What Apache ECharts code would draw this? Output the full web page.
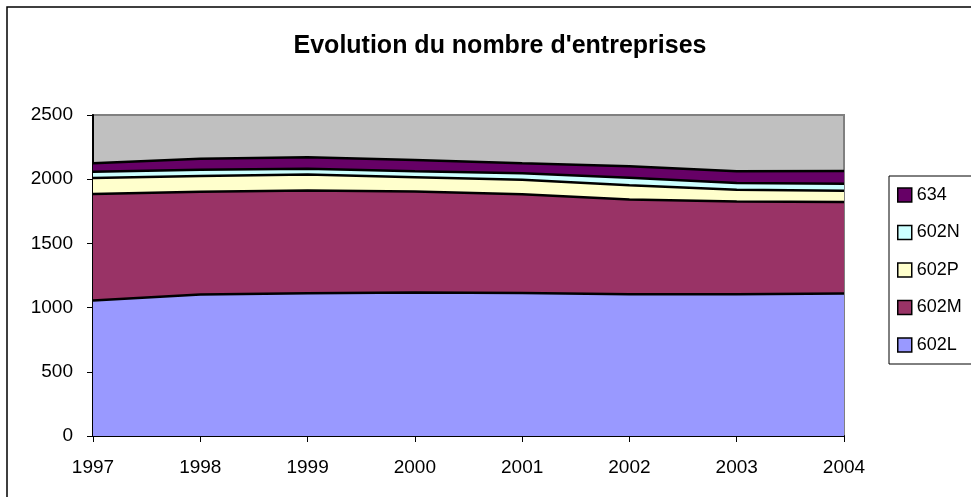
<!DOCTYPE html>
<html>
<head>
<meta charset="utf-8">
<title>Evolution du nombre d'entreprises</title>
<script src="https://cdn.jsdelivr.net/npm/echarts@6/dist/echarts.min.js"></script>
<style>
  html, body { margin: 0; padding: 0; background: #fff; }
  #chart { width: 971px; height: 497px; }
</style>
</head>
<body>
<div id="chart"></div>
<script>
// years on the x axis
var years = ['1997', '1998', '1999', '2000', '2001', '2002', '2003', '2004'];

// stacked series, bottom to top
var s602L = [1055, 1102, 1112, 1118, 1114, 1103, 1104, 1110];
var s602M = [830, 800, 800, 786, 768, 738, 722, 712];
var s602P = [125, 122, 124, 112, 114, 112, 92, 88];
var s602N = [48, 50, 45, 46, 50, 58, 52, 55];
var s634 = [67, 86, 89, 88, 78, 90, 92, 98];

var legendOrder = ['634', '602N', '602P', '602M', '602L'];

var font = 'Liberation Sans, Arial, sans-serif';

function areaSeries(name, data, color) {
    return {
        name: name,
        type: 'line',
        stack: 'total',
        data: data,
        symbol: 'none',
        color: color,
        lineStyle: { color: '#000', width: 2.5 },
        areaStyle: { color: color, opacity: 1 },
        itemStyle: { color: color },
        emphasis: { disabled: true }
    };
}

var chart = echarts.init(document.getElementById('chart'));
chart.setOption({
    animation: false,
    backgroundColor: '#fff',
    graphic: [
        {
            type: 'rect',
            shape: { x: 7, y: 7, width: 990, height: 520 },
            style: { fill: 'none', stroke: '#000', lineWidth: 1.5 },
            silent: true
        }
    ],
    title: {
        text: "Evolution du nombre d'entreprises",
        left: 495,
        top: 29,
        textAlign: 'center',
        textStyle: { fontFamily: font, fontSize: 25, fontWeight: 'bold', color: '#000' }
    },
    legend: {
        data: legendOrder,
        orient: 'vertical',
        left: 889,
        top: 176,
        padding: [10, 10, 10, 8],
        itemWidth: 14,
        itemHeight: 14,
        itemGap: 19.5,
        icon: 'rect',
        borderColor: '#000',
        borderWidth: 1,
        itemStyle: { borderColor: '#000', borderWidth: 1.5 },
        textStyle: { fontFamily: font, fontSize: 18, color: '#000' }
    },
    grid: {
        left: 93,
        right: 127,
        top: 115,
        bottom: 61,
        show: true,
        backgroundColor: '#C0C0C0',
        borderColor: '#808080',
        borderWidth: 2
    },
    xAxis: {
        type: 'category',
        data: years,
        boundaryGap: false,
        axisLine: { lineStyle: { color: '#000', width: 2 } },
        axisTick: { length: 6, lineStyle: { color: '#000' } },
        axisLabel: { margin: 22, fontFamily: font, fontSize: 19, color: '#000' },
        splitLine: { show: false }
    },
    yAxis: {
        type: 'value',
        min: 0,
        max: 2500,
        interval: 500,
        axisLine: { show: true, lineStyle: { color: '#000', width: 2 } },
        axisTick: { show: true, length: 6, lineStyle: { color: '#000' } },
        axisLabel: {
            margin: 20,
            fontFamily: font,
            fontSize: 19,
            color: '#000',
            formatter: function (v) { return String(v); }
        },
        splitLine: { show: false }
    },
    series: [
        areaSeries('602L', s602L, '#9999FF'),
        areaSeries('602M', s602M, '#993366'),
        areaSeries('602P', s602P, '#FFFFCC'),
        areaSeries('602N', s602N, '#CCFFFF'),
        areaSeries('634', s634, '#660066')
    ]
});
</script>
</body>
</html>
